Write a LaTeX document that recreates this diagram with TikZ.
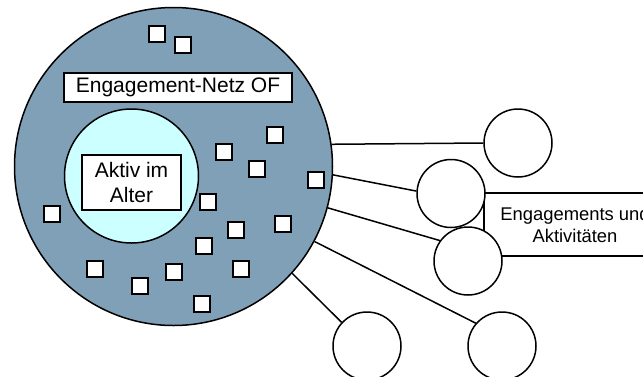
\documentclass[tikz,border=0pt]{standalone}
\usepackage{fontspec}
\setmainfont{Liberation Sans}
\usetikzlibrary{positioning}
\definecolor{netzblau}{RGB}{128,160,184}
\definecolor{hellcyan}{RGB}{204,255,255}

\begin{document}
\begin{tikzpicture}[x=1pt,y=-1pt,line width=1.5pt,
    kreis/.style={circle,draw,fill=white,inner sep=0pt,minimum size=68pt},
    feld/.style={draw,fill=white,line width=1.3pt,inner sep=0pt,minimum size=16pt},
    tafel/.style={draw,fill=white,line width=1.3pt,inner sep=0pt,align=center,
        font=\fontsize{21}{25}\selectfont}]

    \clip (0,0) rectangle (643,376);

    \node[circle,draw,fill=netzblau,inner sep=0pt,minimum size=318pt] (N) at (173.5,166.5) {};
    \node[circle,draw,fill=hellcyan,inner sep=0pt,minimum size=134pt] (K) at (131.5,176) {};
    \node[tafel,minimum width=228pt,minimum height=29pt] (T) at (178,87.5) {Engagement-Netz OF};
    \node[tafel,minimum width=99pt,minimum height=55pt] (I) at (131.5,182.5) {Aktiv im\\Alter};

    \foreach \x/\y [count=\i] in {157/34,183/45,275/135,224/152,257/169,316/180,208/202,52/214,
            236/230,283/224,204/246,95/269,174/272,241/269,140/286,202/304}
        \node[feld] (q\i) at (\x,\y) {};

    \node[tafel,minimum width=182pt,minimum height=63pt,
        font=\fontsize{18.4}{22}\selectfont] (L) at (575,224.5) {Engagements und\\Aktivitäten};

    \node[kreis] (A) at (518,143)   {};
    \node[kreis] (B) at (451,193.5) {};
    \node[kreis] (C) at (468,261)   {};
    \node[kreis] (D) at (367,346)   {};
    \node[kreis] (E) at (502,346)   {};

    \path (N.8.4)   edge (A.west)
          (N.-3.8)  edge (B.176)
          (N.-15.6) edge (C.144.5)
          (N.-28.5) edge (E.139.6)
          (N.-42.2) edge (D.137);
\end{tikzpicture}
\end{document}
